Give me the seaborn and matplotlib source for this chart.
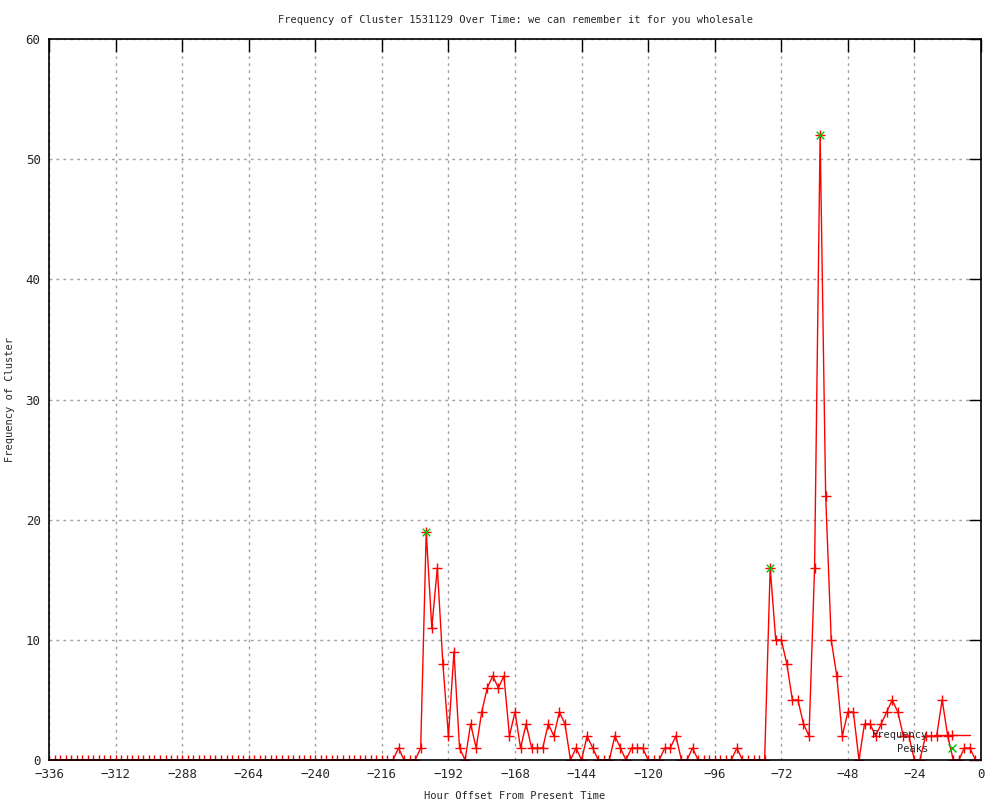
import numpy as np
import pandas as pd
import seaborn as sns
import matplotlib.pyplot as plt
from matplotlib.lines import Line2D

# hour offsets, one sample every 2 hours
hours = list(range(-336, 0, 2))

# cluster frequency per sample (-336 .. -2)
freq = [
    # -336 .. -212
    0, 0, 0, 0, 0, 0, 0, 0, 0, 0, 0, 0, 0, 0, 0, 0, 0, 0, 0, 0,
    0, 0, 0, 0, 0, 0, 0, 0, 0, 0, 0, 0, 0, 0, 0, 0, 0, 0, 0, 0,
    0, 0, 0, 0, 0, 0, 0, 0, 0, 0, 0, 0, 0, 0, 0, 0, 0, 0, 0, 0,
    0, 0, 0,
    # -210 .. -150
    1, 0, 0, 0, 1, 19, 11, 16, 8, 2, 9, 1, 0, 3, 1, 4, 6, 7, 6, 7,
    2, 4, 1, 3, 1, 1, 1, 3, 2, 4, 3,
    # -148 .. -90
    0, 1, 0, 2, 1, 0, 0, 0, 2, 1, 0, 1, 1, 1, 0, 0, 0, 1, 1, 2,
    0, 0, 1, 0, 0, 0, 0, 0, 0, 0,
    # -88 .. -2
    1, 0, 0, 0, 0, 0, 16, 10, 10, 8, 5, 5, 3, 2, 16, 52, 22, 10, 7, 2,
    4, 4, 0, 3, 3, 2, 3, 4, 5, 4, 2, 2, 0, 0, 2, 2, 2, 5, 2, 0,
    0, 1, 1, 0,
]

peak_hours = [-200, -76, -58]
peak_values = [19, 16, 52]

x_ticks = list(range(-336, 1, 24))
y_ticks = list(range(0, 61, 10))

df = pd.DataFrame({'hour': hours, 'freq': freq})
peaks = pd.DataFrame({'hour': peak_hours, 'freq': peak_values})

sns.set_style('white')
plt.rcParams['font.family'] = ['DejaVu Sans Mono', 'DejaVu Sans']

RED = '#ff0000'
GREEN = '#00c000'

fig = plt.figure(figsize=(10, 8), dpi=100)
ax = fig.add_axes([0.049, 0.05, 0.932, 0.901])

sns.lineplot(data=df, x='hour', y='freq', ax=ax, color=RED, linewidth=1.0,
             marker='+', markersize=7, markeredgewidth=1.0, markeredgecolor=RED)
sns.scatterplot(data=peaks, x='hour', y='freq', ax=ax, color=GREEN, marker='x',
                s=30, linewidth=1.0, zorder=5)

ax.set_xlim(-336, 0)
ax.set_ylim(0, 60)
ax.set_xticks(x_ticks)
ax.set_yticks(y_ticks)
ax.set_xticklabels([f'{t}'.replace('-', '\u2212') if t != 0 else '0' for t in x_ticks], fontsize=9)
ax.set_yticklabels([str(t) for t in y_ticks], fontsize=9)
ax.tick_params(direction='in', length=9, width=1, color='black',
               top=True, right=True, pad=6)

ax.grid(True, color='#a0a0a0', linestyle=(0, (2, 3)), linewidth=1)
for side in ax.spines.values():
    side.set_color('black')
    side.set_linewidth(1.2)

ax.set_title('Frequency of Cluster 1531129 Over Time: we can remember it for you wholesale',
             fontsize=7.5, pad=12)
ax.set_xlabel('Hour Offset From Present Time', fontsize=7.5)
ax.set_ylabel('Frequency of Cluster', fontsize=7.5)
ax.xaxis.set_label_coords(0.5, -0.043)
ax.yaxis.set_label_coords(-0.036, 0.5)

handles = [
    Line2D([], [], color=RED, linewidth=1.0, marker='+', markersize=7),
    Line2D([], [], color=GREEN, linestyle='none', marker='x', markersize=6),
]
ax.legend(handles, ['Frequency', 'Peaks'], loc='lower right',
          bbox_to_anchor=(0.998, -0.004), frameon=False, markerfirst=False,
          fontsize=7.5, handlelength=3.4, handletextpad=0.6, labelspacing=0.3)

fig.savefig('out.png', dpi=100)
